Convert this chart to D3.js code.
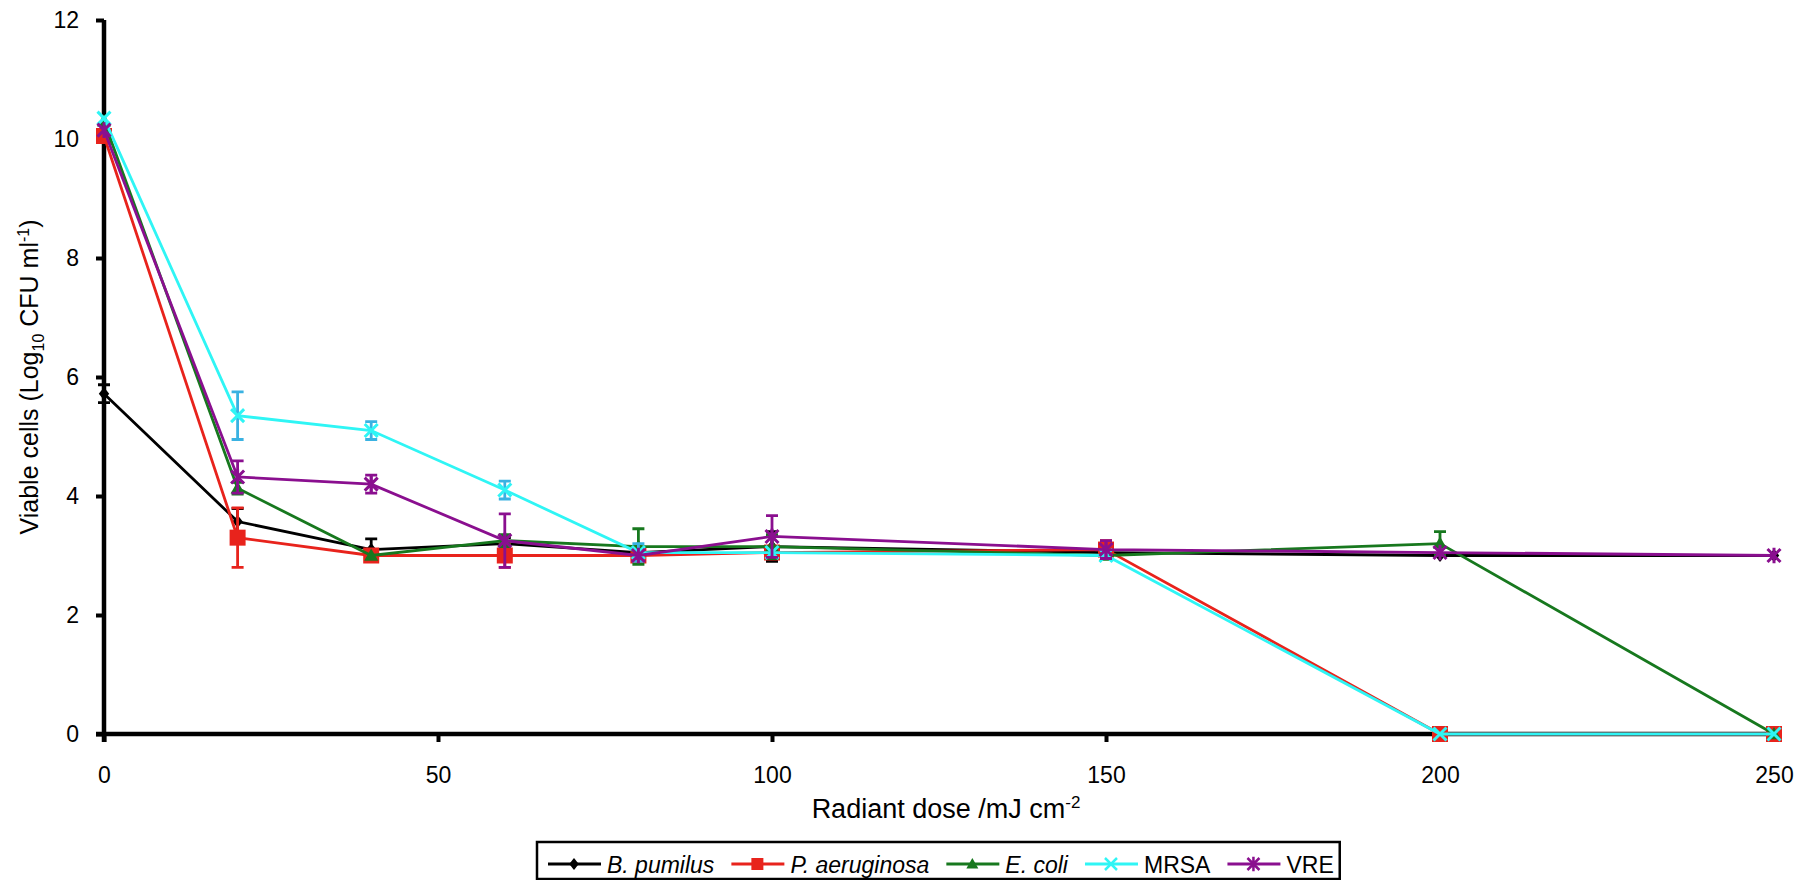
<!DOCTYPE html>
<html>
<head>
<meta charset="utf-8">
<script src="https://cdn.jsdelivr.net/npm/d3@7"></script>
<style>
  body { margin: 0; background: #fff; }
  text { font-family: "Liberation Sans", Arial, sans-serif; }
</style>
</head>
<body>
<script>
const W = 1809, H = 880;

// data
const doses = [0, 20, 40, 60, 80, 100, 150, 200, 250];
const xTicks = [0, 50, 100, 150, 200, 250];
const yTicks = [0, 2, 4, 6, 8, 10, 12];

const bpumilus = [5.72, 3.57, 3.1, 3.2, 3.05, 3.15, 3.05, 3.0, 3.0];
const bpumilusErr = [0.15, 0.22, 0.18, 0.1, 0.05, 0.25, 0.05, 0.05, 0];
const paeruginosa = [10.05, 3.3, 3.0, 3.0, 3.0, 3.05, 3.1, 0, 0];
const paeruginosaErr = [0.05, 0.5, 0.05, 0.2, 0.05, 0.05, 0.15, 0, 0];
const ecoli = [10.3, 4.13, 3.0, 3.25, 3.15, 3.15, 3.0, 3.2, 0];
const ecoliErr = [0.05, 0.1, 0.05, 0.1, 0.3, 0.2, 0.05, 0.2, 0];
const mrsa = [10.35, 5.35, 5.1, 4.1, 3.05, 3.05, 3.0, 0, 0];
const mrsaErr = [0.05, 0.4, 0.15, 0.15, 0.15, 0.05, 0.05, 0, 0];
const vre = [10.15, 4.32, 4.2, 3.25, 3.0, 3.32, 3.1, 3.05, 3.0];
const vreErr = [0.05, 0.27, 0.15, 0.45, 0.05, 0.35, 0.15, 0.05, 0];

const names = ["B. pumilus", "P. aeruginosa", "E. coli", "MRSA", "VRE"];
const italic = [true, true, true, false, false];
const colors = ["#000000", "#e8231c", "#17781e", "#2ff5f5", "#8a0f8f"];
const errColors = ["#000000", "#e8231c", "#17781e", "#3ab2e2", "#8a0f8f"];
const markers = ["diamond", "square", "triangle", "cross", "asterisk"];
const values = [bpumilus, paeruginosa, ecoli, mrsa, vre];
const errors = [bpumilusErr, paeruginosaErr, ecoliErr, mrsaErr, vreErr];

const x = d3.scaleLinear().domain([0, 250]).range([104, 1774]);
const y = d3.scaleLinear().domain([0, 12]).range([734, 20]);

const svg = d3.select("body").append("svg")
    .attr("width", W)
    .attr("height", H);

function markerPath(type, s) {
    const r = s / 2;
    if (type == "diamond") return `M0,${-r}L${r * 0.8},0L0,${r}L${-r * 0.8},0Z`;
    if (type == "square") return `M${-r},${-r}H${r}V${r}H${-r}Z`;
    if (type == "triangle") return `M0,${-r}L${r},${r * 0.75}L${-r},${r * 0.75}Z`;
    if (type == "cross") return `M${-r},${-r}L${r},${r}M${r},${-r}L${-r},${r}`;
    return `M${-r},${-r}L${r},${r}M${r},${-r}L${-r},${r}M0,${-r * 1.2}V${r * 1.2}`;
}
const markerSize = [13, 16, 14, 13, 13];

function drawMarker(g, type, i, cx, cy) {
    const p = g.append("path")
        .attr("transform", `translate(${cx},${cy})`)
        .attr("d", markerPath(type, markerSize[i]));
    if (type == "cross" || type == "asterisk") {
        p.attr("fill", "none").attr("stroke", colors[i]).attr("stroke-width", 3);
    } else {
        p.attr("fill", colors[i]);
    }
}

// axes
const yAxis = svg.append("g")
    .attr("transform", `translate(${x(0)},0)`)
    .call(d3.axisLeft(y).tickValues(yTicks).tickSize(8).tickPadding(17).tickFormat(d3.format("d")));
const xAxis = svg.append("g")
    .attr("transform", `translate(0,${y(0)})`)
    .call(d3.axisBottom(x).tickValues(xTicks).tickSize(8).tickPadding(25).tickFormat(d3.format("d")));

[xAxis, yAxis].forEach(a => {
    a.select(".domain").attr("stroke", "#000").attr("stroke-width", 4.5)
        .attr("d", a === xAxis ? `M${x(0) - 8},0H${x(250)}` : `M0,${y(12)}V${y(0) + 8}`);
    a.selectAll(".tick line").attr("stroke", "#000").attr("stroke-width", 4);
    a.selectAll(".tick text").attr("fill", "#000").style("font-size", "23px")
        .style("font-family", "'Liberation Sans', Arial, sans-serif");
});

// series
const line = d3.line().x((d, j) => x(doses[j])).y(d => y(d));

values.forEach((vals, i) => {
    const g = svg.append("g");
    g.append("path")
        .datum(vals)
        .attr("fill", "none")
        .attr("stroke", colors[i])
        .attr("stroke-width", 2.8)
        .attr("d", line);
    vals.forEach((v, j) => {
        const e = errors[i][j];
        if (e > 0.06) {
            const cx = x(doses[j]);
            g.append("path")
                .attr("d", `M${cx},${y(v + e)}V${y(v - e)}M${cx - 6},${y(v + e)}H${cx + 6}M${cx - 6},${y(v - e)}H${cx + 6}`)
                .attr("stroke", errColors[i])
                .attr("stroke-width", 2.8)
                .attr("fill", "none");
        }
    });
    vals.forEach((v, j) => drawMarker(g, markers[i], i, x(doses[j]), y(v)));
});

// axis titles
const xt = svg.append("text")
    .attr("x", 946).attr("y", 818)
    .attr("text-anchor", "middle")
    .style("font-size", "27px");
xt.append("tspan").text("Radiant dose /mJ cm");
xt.append("tspan").text("-2").attr("dy", -10).style("font-size", "17px");

const yt = svg.append("text")
    .attr("transform", `translate(38,377) rotate(-90)`)
    .attr("text-anchor", "middle")
    .style("font-size", "25px");
yt.append("tspan").text("Viable cells (Log");
yt.append("tspan").text("10").attr("dy", 6).style("font-size", "16px");
yt.append("tspan").text(" CFU ml").attr("dy", -6);
yt.append("tspan").text("-1").attr("dy", -9).style("font-size", "16px");
yt.append("tspan").text(")").attr("dy", 9);

// legend
const leg = svg.append("g");
const legBox = leg.append("rect")
    .attr("x", 537).attr("y", 842)
    .attr("height", 37)
    .attr("fill", "#fff").attr("stroke", "#000").attr("stroke-width", 2.5);

let lx = 548;
const ly = 864;
names.forEach((n, i) => {
    leg.append("line")
        .attr("x1", lx).attr("x2", lx + 53)
        .attr("y1", ly).attr("y2", ly)
        .attr("stroke", colors[i]).attr("stroke-width", 2.8);
    const stroked = markers[i] == "cross" || markers[i] == "asterisk";
    leg.append("path")
        .attr("transform", `translate(${lx + 26},${ly})`)
        .attr("d", markerPath(markers[i], 12))
        .attr("fill", stroked ? "none" : colors[i])
        .attr("stroke", stroked ? colors[i] : "none")
        .attr("stroke-width", 2.5);
    const t = leg.append("text")
        .attr("x", lx + 59).attr("y", ly + 9)
        .style("font-size", "23px")
        .style("font-style", italic[i] ? "italic" : "normal")
        .text(n);
    lx += 59 + t.node().getComputedTextLength() + 17;
});
legBox.attr("width", lx - 17 + 6 - 537);
</script>
</body>
</html>
